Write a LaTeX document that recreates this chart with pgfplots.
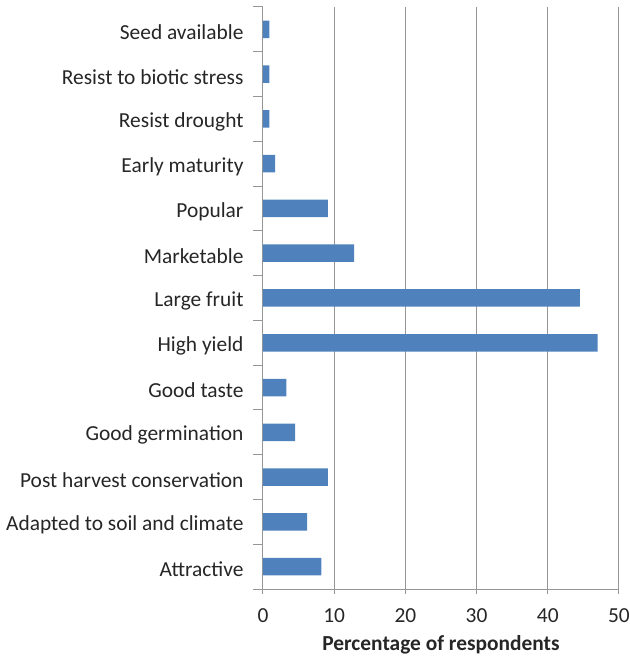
\documentclass[border=0pt]{standalone}
\usepackage{pgfplots}
\pgfplotsset{compat=1.18}
\usepackage{fontspec}
\setmainfont{Carlito}
\definecolor{barblue}{RGB}{79,129,189}
\definecolor{gridgray}{RGB}{150,150,150}

\begin{document}
\begin{tikzpicture}
  \begin{axis}[
    name=ax,
    scale only axis,
    width=356pt, height=582pt,
    xbar,
    bar width=17.5pt,
    xmin=0, xmax=50,
    ymin=-0.5, ymax=12.5,
    axis x line*=bottom,
    axis y line*=left,
    axis line style={gridgray, line width=1pt},
    xtick={0,10,...,50},
    xmajorgrids=true,
    grid style={gridgray, line width=1pt},
    ytick={0,...,12},
    yticklabels={Attractive, Adapted to soil and climate, Post harvest conservation,
      Good germination, Good taste, High yield, Large fruit, Marketable,
      Popular, Early maturity, Resist drought, Resist to biotic stress, Seed available},
    major tick length=0pt,
    extra y ticks={-0.5,0.5,...,12.5},
    extra y tick labels={},
    extra y tick style={major tick length=10pt, tick style={gridgray, line width=1pt}},
    extra x ticks={0,10,...,50},
    extra x tick labels={},
    extra x tick style={major tick length=5pt, grid=none, tick style={gridgray, line width=1pt}},
    tick align=outside,
    tick style={gridgray},
    ticklabel style={font=\fontsize{21.4}{24}\selectfont, text=black!85},
    yticklabel style={xshift=-16pt, yshift=-3pt},
    xticklabel style={yshift=-16pt},
    /pgf/number format/assume math mode=true,
    xlabel={\textbf{Percentage of respondents}},
    xlabel style={font=\fontsize{21.4}{24}\selectfont, text=black!85, yshift=-1pt},
  ]
    \addplot[fill=barblue, draw=none] coordinates {
      (8.2,0) (6.2,1) (9.1,2) (4.5,3) (3.3,4) (47.0,5) (44.5,6)
      (12.8,7) (9.1,8) (1.7,9) (0.9,10) (0.9,11) (0.9,12)
    };
  \end{axis}
  \pgfresetboundingbox
  \path[use as bounding box] ([shift={(-263pt,-67pt)}]ax.south west)
    rectangle ([shift={(11pt,7pt)}]ax.north east);
\end{tikzpicture}
\end{document}
